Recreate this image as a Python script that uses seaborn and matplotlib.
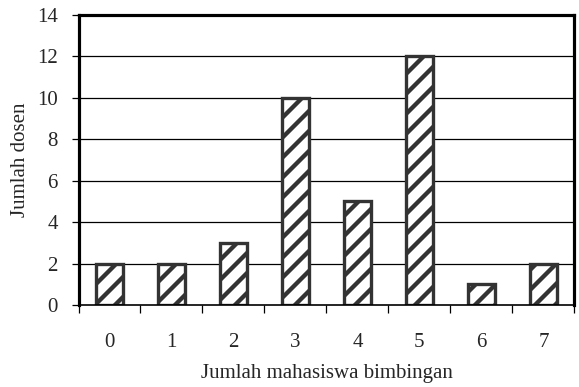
import numpy as np
import pandas as pd
import matplotlib
matplotlib.use("Agg")
import matplotlib.pyplot as plt
import seaborn as sns

# data
jumlah_mahasiswa = ["0", "1", "2", "3", "4", "5", "6", "7"]
jumlah_dosen = [2, 2, 3, 10, 5, 12, 1, 2]
y_ticks = [0, 2, 4, 6, 8, 10, 12, 14]

# rendered at 120 dpi so the hatch stripes get the right spacing;
# sizes below are in points at that dpi
DPI = 120

sns.set_style("white")
plt.rcParams["font.family"] = ["Liberation Serif", "DejaVu Serif"]
plt.rcParams["hatch.linewidth"] = 2.6
plt.rcParams["hatch.color"] = "#333333"

df = pd.DataFrame({"mahasiswa": jumlah_mahasiswa, "dosen": jumlah_dosen})

fig = plt.figure(figsize=(579 / DPI, 387 / DPI), dpi=DPI)
ax = fig.add_axes([0.1356, 0.2119, 0.8564, 0.7494])

for y in y_ticks[1:]:
    ax.axhline(y, color="black", linewidth=0.75, zorder=0)

sns.barplot(data=df, x="mahasiswa", y="dosen", color="white", width=0.44,
            edgecolor="#333333", linewidth=2.0, hatch="//", saturation=1,
            ax=ax, zorder=2)

ax.set_xlim(-0.5, 7.5)
ax.set_ylim(0, 14)
ax.set_yticks(y_ticks)
ax.set_xticks(np.arange(-0.5, 8.0, 1.0), minor=True)
ax.tick_params(axis="x", which="major", length=0, pad=17, labelsize=12.5)
ax.tick_params(axis="x", which="minor", direction="out", length=4.5, width=0.75,
               bottom=True, color="black")
ax.tick_params(axis="y", direction="out", length=4.5, width=0.75, left=True,
               pad=8, labelsize=12.5, color="black")

for side in ["left", "top", "right"]:
    ax.spines[side].set_linewidth(1.9)
    ax.spines[side].set_color("black")
ax.spines["bottom"].set_linewidth(1.0)
ax.spines["bottom"].set_color("black")

ax.set_xlabel("Jumlah mahasiswa bimbingan", fontsize=12.5, labelpad=7)
ax.set_ylabel("Jumlah dosen", fontsize=12.5, labelpad=4)

fig.savefig("out.png", dpi=DPI)
